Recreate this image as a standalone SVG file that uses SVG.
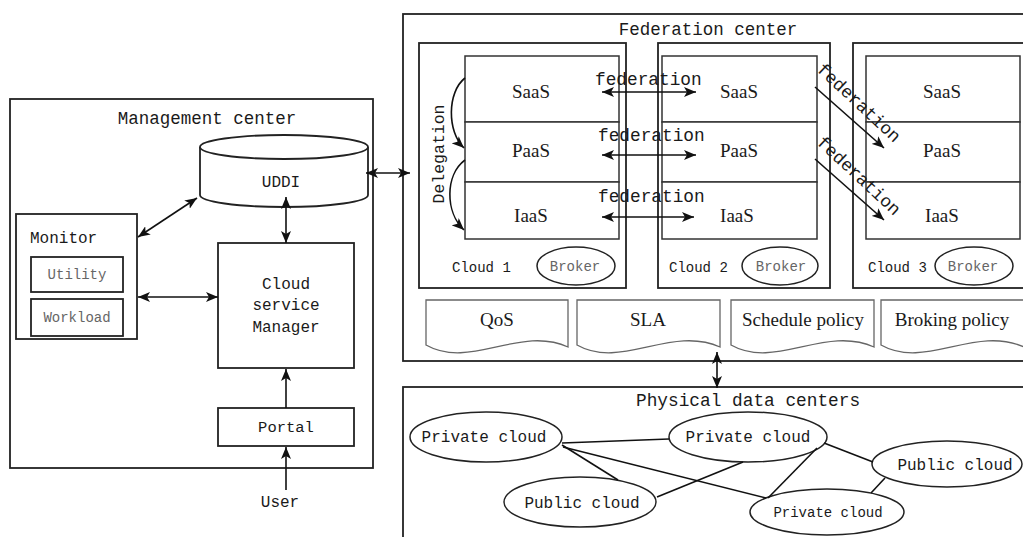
<svg xmlns="http://www.w3.org/2000/svg" width="1023" height="537" viewBox="0 0 1023 537">
<defs>
<style>
.box{fill:#fff;stroke:#222;stroke-width:1.8}
.lay{fill:#fff;stroke:#333;stroke-width:1.5}
.doc{fill:#fff;stroke:#666;stroke-width:1.3}
.ell{fill:#fff;stroke:#222;stroke-width:1.5}
.mono{font-family:"Liberation Mono","DejaVu Sans Mono",monospace;fill:#1a1a1a}
.serif{font-family:"Liberation Serif","Times New Roman",serif;fill:#1a1a1a}
.gray{fill:#666}
.mid{text-anchor:middle}
.con{fill:none;stroke:#111;stroke-width:1.6}
.arr{fill:none;stroke:#111;stroke-width:1.6;marker-end:url(#ah)}
.arr2{fill:none;stroke:#111;stroke-width:1.6;marker-end:url(#ah);marker-start:url(#ah)}
</style>
<marker id="ah" viewBox="0 0 12 10" refX="12" refY="5" markerWidth="12" markerHeight="10" markerUnits="userSpaceOnUse" orient="auto-start-reverse"><path d="M0,0 L12,5 L0,10 L3,5 Z" fill="#111"/></marker>
</defs>
<rect width="1023" height="537" fill="#fff"/>

<g id="management-center">
<rect class="box" x="10" y="99" width="363" height="369"/>
<text class="mono mid" x="207" y="124" font-size="17.5">Management center</text>
</g>

<g id="uddi">
<path class="box" d="M200,147 V195 A84,12 0 0 0 368,195 V147"/>
<ellipse class="box" cx="284" cy="147" rx="84" ry="12"/>
<text class="mono mid" x="281" y="187" font-size="16">UDDI</text>
</g>

<g id="monitor">
<rect class="box" x="16" y="214" width="121" height="125"/>
<text class="mono" x="30" y="243" font-size="16">Monitor</text>
</g>
<g id="utility">
<rect class="box" x="31" y="257" width="92" height="35"/>
<text class="mono mid gray" x="77" y="279" font-size="14">Utility</text>
</g>
<g id="workload">
<rect class="box" x="31" y="299" width="92" height="37"/>
<text class="mono mid gray" x="77" y="322" font-size="14">Workload</text>
</g>

<g id="cloud-service-manager">
<rect class="box" x="218" y="243" width="136" height="125"/>
<text class="mono mid" x="286" y="289" font-size="16">Cloud</text>
<text class="mono mid" x="286" y="310" font-size="16">service</text>
<text class="mono mid" x="286" y="332" font-size="16">Manager</text>
</g>

<g id="portal">
<rect class="box" x="218" y="408" width="136" height="38"/>
<text class="mono mid" x="286" y="432" font-size="15.5">Portal</text>
</g>

<g id="user">
<text class="mono mid" x="280" y="507" font-size="16">User</text>
</g>

<g id="federation-center">
<rect class="box" x="403" y="14" width="630" height="347" stroke-width="1.5"/>
<text class="mono mid" x="708" y="35" font-size="17.5">Federation center</text>
</g>

<g id="cloud1">
<rect class="box" x="419" y="43" width="207" height="245"/>
<rect class="lay" x="465" y="56" width="154" height="66"/>
<rect class="lay" x="465" y="122" width="154" height="60"/>
<rect class="lay" x="465" y="182" width="154" height="57"/>
<text class="serif mid" x="531" y="98" font-size="19">SaaS</text>
<text class="serif mid" x="531" y="157" font-size="19">PaaS</text>
<text class="serif mid" x="531" y="222" font-size="19">IaaS</text>
<text class="mono" x="452" y="272" font-size="14">Cloud 1</text>
<ellipse class="ell" cx="576" cy="266" rx="39" ry="19"/>
<text class="mono mid gray" x="575" y="271" font-size="14">Broker</text>
<text class="mono mid" x="444" y="154" font-size="16.5" transform="rotate(-90 444 154)">Delegation</text>
</g>

<g id="cloud2">
<rect class="box" x="658" y="43" width="172" height="245"/>
<rect class="lay" x="662" y="56" width="155" height="66"/>
<rect class="lay" x="662" y="122" width="155" height="60"/>
<rect class="lay" x="662" y="182" width="155" height="57"/>
<text class="serif mid" x="739" y="98" font-size="19">SaaS</text>
<text class="serif mid" x="739" y="157" font-size="19">PaaS</text>
<text class="serif mid" x="737" y="222" font-size="19">IaaS</text>
<text class="mono" x="669" y="272" font-size="14">Cloud 2</text>
<ellipse class="ell" cx="780" cy="266" rx="38" ry="19"/>
<text class="mono mid gray" x="781" y="271" font-size="14">Broker</text>
</g>

<g id="cloud3">
<rect class="box" x="853" y="43" width="180" height="245"/>
<rect class="lay" x="866" y="56" width="154" height="66"/>
<rect class="lay" x="866" y="122" width="154" height="60"/>
<rect class="lay" x="866" y="182" width="154" height="57"/>
<text class="serif mid" x="942" y="98" font-size="19">SaaS</text>
<text class="serif mid" x="942" y="157" font-size="19">PaaS</text>
<text class="serif mid" x="942" y="222" font-size="19">IaaS</text>
<text class="mono" x="868" y="272" font-size="14">Cloud 3</text>
<ellipse class="ell" cx="974" cy="266" rx="39" ry="19"/>
<text class="mono mid gray" x="973" y="271" font-size="14">Broker</text>
</g>

<g id="qos">
<path class="doc" d="M426,300 H568 V347 C520,325 470,370 426,345 Z"/>
<text class="serif mid" x="497" y="326" font-size="19">QoS</text>
</g>
<g id="sla">
<path class="doc" d="M577,300 H720 V347 C671,325 621,370 577,345 Z"/>
<text class="serif mid" x="648" y="326" font-size="19">SLA</text>
</g>
<g id="schedule-policy">
<path class="doc" d="M731,300 H874 V347 C825,325 775,370 731,345 Z"/>
<text class="serif mid" x="803" y="326" font-size="19">Schedule policy</text>
</g>
<g id="broking-policy">
<path class="doc" d="M881,300 H1024 V347 C975,325 925,370 881,345 Z"/>
<text class="serif mid" x="952" y="326" font-size="19">Broking policy</text>
</g>

<g id="physical-data-centers">
<rect class="box" x="403" y="387" width="630" height="160" stroke-width="1.5"/>
<text class="mono" x="636" y="406" font-size="17.8">Physical data centers</text>
</g>
<g id="private-cloud-1">
<ellipse class="ell" cx="486" cy="437" rx="76" ry="25"/>
<text class="mono mid" x="484" y="442" font-size="16">Private cloud</text>
</g>
<g id="private-cloud-2">
<ellipse class="ell" cx="748" cy="437" rx="79" ry="25"/>
<text class="mono mid" x="748" y="442" font-size="16">Private cloud</text>
</g>
<g id="public-cloud-1">
<ellipse class="ell" cx="580" cy="502" rx="76" ry="25"/>
<text class="mono mid" x="582" y="508" font-size="16">Public cloud</text>
</g>
<g id="public-cloud-2">
<ellipse class="ell" cx="947" cy="464" rx="75" ry="23"/>
<text class="mono mid" x="955" y="470" font-size="16">Public cloud</text>
</g>
<g id="private-cloud-3">
<ellipse class="ell" cx="827" cy="512" rx="77" ry="23"/>
<text class="mono mid" x="828" y="517" font-size="14">Private cloud</text>
</g>

<g id="connectors">
<line class="arr" x1="286" y1="490" x2="286" y2="447"/>
<line class="arr" x1="286" y1="408" x2="286" y2="369"/>
<line class="arr2" x1="286" y1="197" x2="286" y2="243"/>
<line class="arr2" x1="138" y1="237" x2="197" y2="198"/>
<line class="arr2" x1="138" y1="297" x2="218" y2="297"/>
<line class="arr2" x1="366" y1="173" x2="410" y2="173"/>
<line class="arr2" x1="717" y1="352" x2="717" y2="388"/>
<path class="arr" d="M465,78 C447,92 447,132 464,148"/>
<path class="arr" d="M465,160 C445,175 445,212 464,230"/>
<line class="arr2" x1="602" y1="92" x2="696" y2="92"/>
<line class="arr2" x1="602" y1="155" x2="696" y2="155"/>
<line class="arr2" x1="602" y1="217" x2="694" y2="217"/>
<line class="arr" x1="815" y1="87" x2="884" y2="148"/>
<line class="arr" x1="815" y1="159" x2="884" y2="220"/>
<text class="mono" x="595" y="85" font-size="17.8">federation</text>
<text class="mono" x="598" y="141" font-size="17.8">federation</text>
<text class="mono" x="598" y="202" font-size="17.8">federation</text>
<text class="mono mid" x="855" y="107" font-size="17.8" transform="rotate(43 855 107)">federation</text>
<text class="mono mid" x="855" y="180" font-size="17.8" transform="rotate(43 855 180)">federation</text>
<line class="con" x1="562" y1="443" x2="669" y2="439"/>
<line class="con" x1="562" y1="445" x2="618" y2="480"/>
<line class="con" x1="563" y1="447" x2="766" y2="498"/>
<line class="con" x1="657" y1="497" x2="743" y2="462"/>
<line class="con" x1="817" y1="448" x2="768" y2="498"/>
<line class="con" x1="824" y1="443" x2="873" y2="462"/>
<line class="con" x1="885" y1="478" x2="871" y2="493"/>
</g>
</svg>
